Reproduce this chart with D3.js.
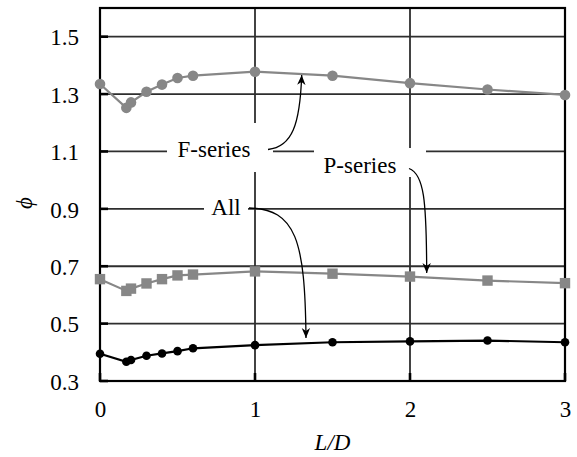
<!DOCTYPE html>
<html lang="en"><head><meta charset="utf-8">
<script src="https://cdn.jsdelivr.net/npm/d3@7/dist/d3.min.js"></script>
<style>
@font-face { font-family: "ChartSerif"; font-style: normal; font-weight: 400; font-display: block;
  src: local("Liberation Serif"), local("LiberationSerif"), local("Liberation Serif Regular"),
       url("file:///usr/share/fonts/truetype/liberation/LiberationSerif-Regular.ttf"),
       url("file:///usr/share/fonts/truetype/liberation2/LiberationSerif-Regular.ttf"),
       url("file:///usr/share/fonts/liberation-serif/LiberationSerif-Regular.ttf"),
       url("file:///usr/share/fonts/liberation/LiberationSerif-Regular.ttf"); }
@font-face { font-family: "ChartSerif"; font-style: italic; font-weight: 400; font-display: block;
  src: local("Liberation Serif Italic"), local("LiberationSerif-Italic"),
       url("file:///usr/share/fonts/truetype/liberation/LiberationSerif-Italic.ttf"),
       url("file:///usr/share/fonts/truetype/liberation2/LiberationSerif-Italic.ttf"),
       url("file:///usr/share/fonts/liberation-serif/LiberationSerif-Italic.ttf"),
       url("file:///usr/share/fonts/liberation/LiberationSerif-Italic.ttf"); }
body{margin:0;background:#fff;font-family:"Liberation Serif",serif}svg{display:block}
</style>
</head><body>
<script>
const xValues = [0, 0.17, 0.2, 0.3, 0.4, 0.5, 0.6, 1.0, 1.5, 2.0, 2.5, 3.0];
const fSeries = [1.335, 1.252, 1.271, 1.308, 1.333, 1.356, 1.364, 1.378, 1.364, 1.338, 1.316, 1.297];
const pSeries = [0.655, 0.614, 0.622, 0.640, 0.655, 0.668, 0.671, 0.682, 0.674, 0.664, 0.650, 0.641];
const allSeries = [0.395, 0.367, 0.373, 0.388, 0.396, 0.404, 0.414, 0.425, 0.435, 0.438, 0.441, 0.435];
const xTicks = [0, 1, 2, 3];
const yTicks = [0.3, 0.5, 0.7, 0.9, 1.1, 1.3, 1.5];
const yTickLabels = ["0.3", "0.5", "0.7", "0.9", "1.1", "1.3", "1.5"];

const W = 577, H = 457;
const m = {l: 100, r: 12, t: 8, b: 76};
const font = '"Liberation Serif", "ChartSerif", "Tinos", "Times New Roman", serif';
const FS = "23px";
const svg = d3.select("body").append("svg").attr("width", W).attr("height", H)
  .style("font-family", font);
const x = d3.scaleLinear().domain([0, 3]).range([m.l, W - m.r]);
const y = d3.scaleLinear().domain([0.3, 1.6]).range([H - m.b, m.t]);

// y-axis title first
svg.append("text").attr("transform", "translate(32,203) rotate(-90)").attr("text-anchor", "middle")
  .style("font-family", font).style("font-size", FS).style("font-style", "italic").text("ϕ");

const defs = svg.append("defs");
defs.append("marker").attr("id", "ah").attr("viewBox", "-10 -5 11 10")
  .attr("refX", 0).attr("refY", 0).attr("markerWidth", 11).attr("markerHeight", 10)
  .attr("markerUnits", "userSpaceOnUse").attr("orient", "auto")
  .append("path").attr("d", "M0,0 L-10,-4.2 L-7,0 L-10,4.2 Z").attr("fill", "#000");

// gridlines
const g = svg.append("g");
g.selectAll(".hg").data(yTicks.filter(d => d > 0.3)).enter().append("line")
  .attr("x1", x(0)).attr("x2", x(3)).attr("y1", d => y(d)).attr("y2", d => y(d))
  .attr("stroke", "#2e2e2e").attr("stroke-width", 1.8);
g.selectAll(".vg").data([1, 2]).enter().append("line")
  .attr("x1", d => x(d)).attr("x2", d => x(d)).attr("y1", y(0.3)).attr("y2", y(1.6))
  .attr("stroke", "#2e2e2e").attr("stroke-width", 1.8);

// inner ticks
g.selectAll(".yt").data(yTicks).enter().append("line")
  .attr("x1", x(0)).attr("x2", x(0) + 8).attr("y1", d => y(d)).attr("y2", d => y(d))
  .attr("stroke", "#000").attr("stroke-width", 2.6);
g.selectAll(".xt").data(xTicks).enter().append("line")
  .attr("x1", d => x(d)).attr("x2", d => x(d)).attr("y1", y(0.3)).attr("y2", y(0.3) - 8)
  .attr("stroke", "#000").attr("stroke-width", 2.6);

// label boxes (white, interrupting grid)
const boxes = [
  {x0: 167, x1: 273, y0: 123, y1: 172},
  {x0: 314, x1: 426, y0: 148, y1: 177},
  {x0: 204, x1: 248, y0: 200, y1: 217}
];
svg.selectAll(".box").data(boxes).enter().append("rect")
  .attr("x", d => d.x0).attr("y", d => d.y0).attr("width", d => d.x1 - d.x0).attr("height", d => d.y1 - d.y0)
  .attr("fill", "#fff");

// frame
svg.append("rect").attr("x", x(0)).attr("y", y(1.6)).attr("width", x(3) - x(0)).attr("height", y(0.3) - y(1.6))
  .attr("fill", "none").attr("stroke", "#000").attr("stroke-width", 2.2);

// axes labels
const yAxis = d3.axisLeft(y).tickValues(yTicks).tickFormat((d, i) => yTickLabels[i]).tickSize(0).tickPadding(21);
const ya = svg.append("g").attr("transform", `translate(${x(0)},0)`).call(yAxis);
ya.attr("font-family", null).attr("font-size", null);
ya.select(".domain").remove();
ya.selectAll("text").style("font-family", font).style("font-size", FS).attr("fill", "#000").attr("dy", "0.36em");
const xAxis = d3.axisBottom(x).tickValues(xTicks).tickFormat(d3.format("d")).tickSize(0).tickPadding(20);
const xa = svg.append("g").attr("transform", `translate(0,${y(0.3)})`).call(xAxis);
xa.attr("font-family", null).attr("font-size", null);
xa.select(".domain").remove();
xa.selectAll("text").style("font-family", font).style("font-size", FS).attr("fill", "#000");

svg.append("text").attr("x", (x(0) + x(3)) / 2).attr("y", 450).attr("text-anchor", "middle")
  .style("font-family", font).style("font-size", FS).style("font-style", "italic").text("L/D");

// series
const line = d3.line().x(d => x(d[0])).y(d => y(d[1]));
function series(vals, color, shape, size) {
  const pts = xValues.map((v, i) => [v, vals[i]]);
  svg.append("path").attr("d", line(pts)).attr("fill", "none").attr("stroke", color).attr("stroke-width", 2.2);
  if (shape === "circle") {
    svg.selectAll(null).data(pts).enter().append("circle")
      .attr("cx", d => x(d[0])).attr("cy", d => y(d[1])).attr("r", size).attr("fill", color);
  } else {
    svg.selectAll(null).data(pts).enter().append("rect")
      .attr("x", d => x(d[0]) - size).attr("y", d => y(d[1]) - size)
      .attr("width", size * 2).attr("height", size * 2).attr("fill", color);
  }
}
series(fSeries, "#878787", "circle", 5.3);
series(pSeries, "#878787", "square", 5.2);
series(allSeries, "#000", "circle", 4.3);

// annotations
const ann = [
  {t: "F-series", tx: 214, ty: 157, d: "M268,149.5 C292,147 300,125 301.7,75"},
  {t: "P-series", tx: 360, ty: 173, d: "M409,168.5 C424,174 426.5,200 426.7,273"},
  {t: "All", tx: 226, ty: 215, d: "M249,208 C296,209 305,240 306,338"}
];
svg.selectAll(".at").data(ann).enter().append("text")
  .attr("x", d => d.tx).attr("y", d => d.ty).attr("text-anchor", "middle")
  .style("font-family", font).style("font-size", FS).text(d => d.t);
svg.selectAll(".ap").data(ann).enter().append("path")
  .attr("d", d => d.d).attr("fill", "none").attr("stroke", "#000").attr("stroke-width", 1.3)
  .attr("marker-end", "url(#ah)");
</script>
</body></html>
